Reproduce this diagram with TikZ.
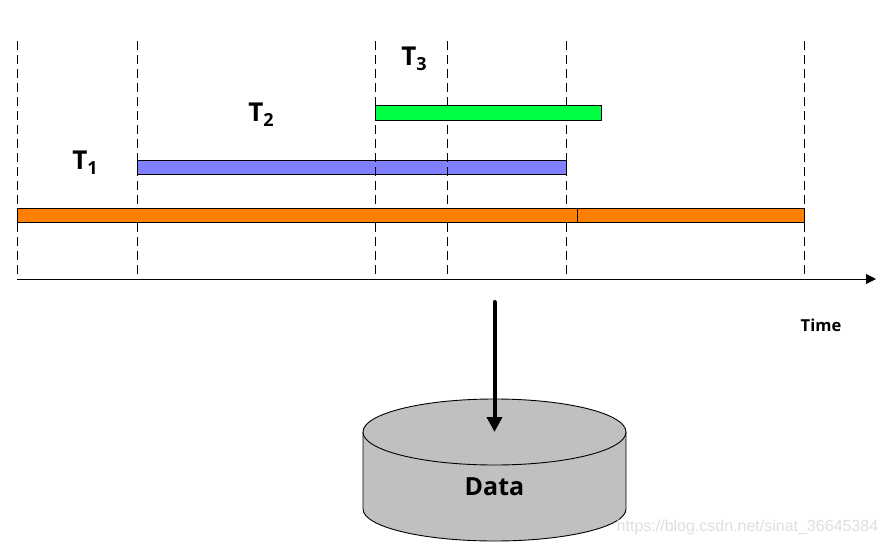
\documentclass[tikz,border=0pt]{standalone}
\usepackage{fontspec}
\setmainfont{Open Sans}
\newfontfamily\markfont{Liberation Sans}
\usetikzlibrary{arrows.meta}

\definecolor{barorange}{HTML}{FF8000}
\definecolor{barblue}{HTML}{8080FF}
\definecolor{bargreen}{HTML}{00FF40}
\definecolor{diskgray}{HTML}{C0C0C0}

\tikzset{
  bar/.style={draw, line width=1pt, inner sep=0pt, minimum height=14pt},
  txn/.style={font=\fontsize{26}{26}\selectfont\bfseries},
  guide/.style={line width=0.9pt, dash pattern=on 9pt off 5pt},
}

\newcommand{\subnum}[1]{\raisebox{-5pt}{\fontsize{18}{18}\selectfont #1}}

\begin{document}
\begin{tikzpicture}[x=1pt, y=-1pt]

\useasboundingbox (0,0) rectangle (887,546);

\node[bar, fill=barblue, minimum width=429pt] (B) at (351.5,167) {};

\foreach \n/\x in {a/17, b/137, c/375, d/447, e/566, f/804} {
  \coordinate (top\n) at (\x,41);
  \coordinate (bot\n) at (\x,279);
  \draw[guide] (top\n) -- (bot\n);
}

\node[bar, fill=barorange, minimum width=787pt] (A) at (410.5,215) {};
\node[bar, fill=bargreen, minimum width=226pt, minimum height=15pt] (C) at (488,112.5) {};

\coordinate (s1) at (577,208);
\coordinate (s2) at (577,222);
\draw[line width=0.8pt] (s1) -- (s2);

\coordinate (tend) at (876,279);
\draw[line width=1pt, -{Triangle[length=10pt,width=10pt]}] (bota) -- (tend);

\node[txn] (T1) at (85,162.5) {T\subnum{1}};
\node[txn] (T2) at (261,114.5) {T\subnum{2}};
\node[txn] (T3) at (414,59) {T\subnum{3}};
\node[font=\fontsize{16.5}{16.5}\selectfont\bfseries] (time) at (821,325) {Time};

% disk
\draw[fill=diskgray, line width=0.9pt] (363,432) -- (363,509)
  arc[start angle=180, end angle=0, x radius=131.5, y radius=32] -- (626,432);
\draw[fill=diskgray, line width=0.9pt] (494.5,432) ellipse [x radius=131.5, y radius=33];
\node[font=\fontsize{25}{25}\selectfont\bfseries] (data) at (494.5,487) {Data};

\coordinate (w1) at (494.5,302);
\coordinate (w2) at (494.5,432);
\draw[line width=4pt, line cap=round, -{Triangle[length=15pt,width=15pt]}] (w1) -- (w2);

\node[font=\fontsize{16}{16}\selectfont\markfont, text=black!13] (mark) at (747.5,527) {https://blog.csdn.net/sinat\_36645384};

\end{tikzpicture}
\end{document}
